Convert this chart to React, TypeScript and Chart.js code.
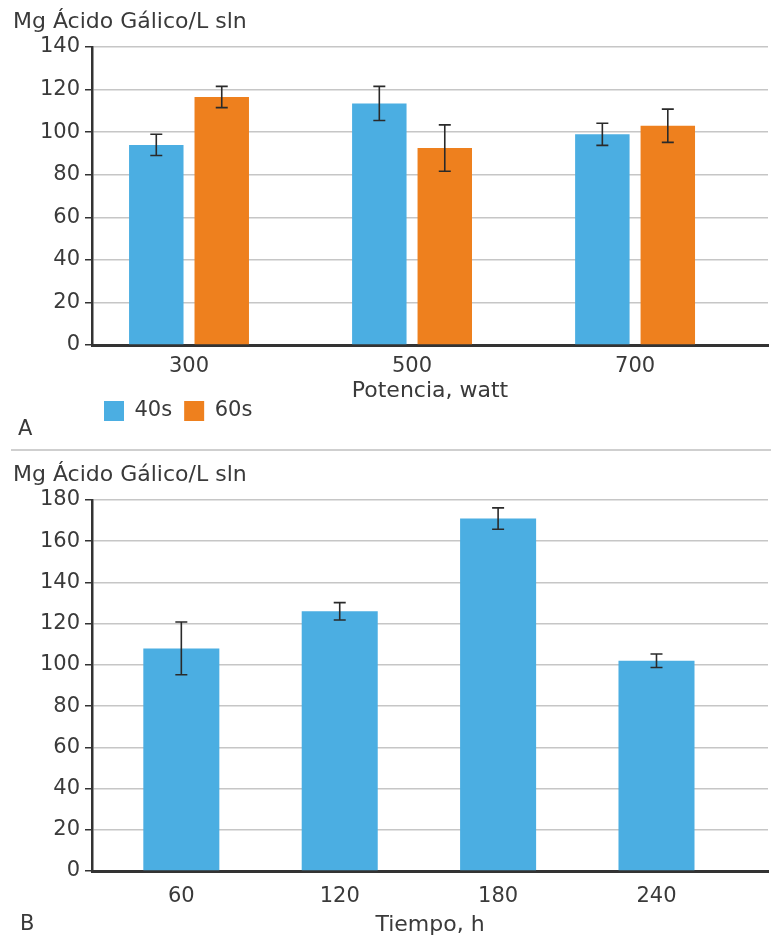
import React, { useEffect, useRef } from "react";
import { Chart, registerables } from "chart.js";

Chart.register(...registerables);

const FONT = "'DejaVu Sans', Verdana, sans-serif";
const TEXT = "#3a3a3a";
const AXIS = "#333333";
const GRID = "#c6c6c6";
const BLUE = "#4baee2";
const ORANGE = "#ee801e";

// ---- data (chart A) ----
const yUnitLabel = "Mg Ácido Gálico/L sln";
const categoriesA = ["300", "500", "700"];
const seriesNamesA = ["40s", "60s"];
const values40s = [94, 113.5, 99];
const errors40s = [5, 8, 5.2];
const values60s = [116.5, 92.5, 103];
const errors60s = [5, 10.9, 7.8];
const xTitleA = "Potencia, watt";
const yMaxA = 140;
const panelA = "A";

// ---- data (chart B) ----
const categoriesB = ["60", "120", "180", "240"];
const valuesB = [108, 126, 171, 102];
const errorsB = [12.8, 4.2, 5.2, 3.3];
const xTitleB = "Tiempo, h";
const yMaxB = 180;
const panelB = "B";

const yStep = 20;

const errorBarPlugin = {
  id: "errorBars",
  afterDatasetsDraw(chart: any) {
    const { ctx } = chart;
    const yScale = chart.scales.y;
    chart.data.datasets.forEach((ds: any, di: number) => {
      const meta = chart.getDatasetMeta(di);
      const errs = ds.errors as number[] | undefined;
      if (!errs) return;
      meta.data.forEach((el: any, i: number) => {
        const v = ds.data[i].y;
        const e = errs[i];
        const x = el.x;
        const yt = yScale.getPixelForValue(v + e);
        const yb = yScale.getPixelForValue(v - e);
        ctx.save();
        ctx.strokeStyle = "#2a2a2a";
        ctx.lineWidth = 1.6;
        ctx.beginPath();
        ctx.moveTo(x, yt);
        ctx.lineTo(x, yb);
        ctx.moveTo(x - 6, yt);
        ctx.lineTo(x + 6, yt);
        ctx.moveTo(x - 6, yb);
        ctx.lineTo(x + 6, yb);
        ctx.stroke();
        ctx.restore();
      });
    });
  },
};

const panelLabelPlugin = {
  id: "panelLabel",
  afterDraw(chart: any, _args: any, opts: any) {
    if (!opts || !opts.text) return;
    const ctx = chart.ctx;
    ctx.save();
    ctx.font = `21px ${FONT}`;
    ctx.fillStyle = TEXT;
    ctx.textBaseline = "middle";
    ctx.textAlign = "left";
    ctx.fillText(opts.text, opts.x, opts.y);
    ctx.restore();
  },
};

type Cfg = {
  categories: string[];
  datasets: any[];
  yMax: number;
  xMin: number;
  xMax: number;
  xTitle: string;
  tickPad: number;
  xTitlePad: { top: number; bottom: number };
  titlePad: { top: number; bottom: number };
  legend: boolean;
  layoutBottom: number;
  panel: { text: string; x: number; y: number };
  catPct: number;
  barPct: number;
};

function makeConfig(c: Cfg): any {
  return {
    type: "bar",
    data: { datasets: c.datasets },
    plugins: [errorBarPlugin, panelLabelPlugin],
    options: {
      animation: false,
      responsive: false,
      devicePixelRatio: 1,
      events: [],
      categoryPercentage: c.catPct,
      barPercentage: c.barPct,
      layout: { padding: { left: 13, right: 3, top: 0, bottom: c.layoutBottom } },
      plugins: {
        tooltip: { enabled: false },
        title: {
          display: true,
          text: yUnitLabel,
          align: "start",
          color: TEXT,
          font: { family: FONT, size: 22, weight: "normal" },
          padding: c.titlePad,
        },
        legend: {
          display: c.legend,
          position: "bottom",
          align: "start",
          fullSize: false,
          labels: {
            boxWidth: 20,
            boxHeight: 20,
            padding: 12,
            color: TEXT,
            font: { family: FONT, size: 21 },
          },
        },
        panelLabel: c.panel,
      },
      scales: {
        x: {
          type: "linear",
          min: c.xMin,
          max: c.xMax,
          offset: false,
          afterBuildTicks: (axis: any) => {
            axis.ticks = c.categories.map((_, i) => ({ value: i }));
          },
          grid: { display: false, offset: false },
          border: { display: true, color: AXIS, width: 3 },
          ticks: {
            autoSkip: false,
            maxRotation: 0,
            padding: c.tickPad,
            color: TEXT,
            font: { family: FONT, size: 21 },
            callback: (value: number) => c.categories[Math.round(value)],
          },
          title: {
            display: true,
            text: c.xTitle,
            color: TEXT,
            font: { family: FONT, size: 22 },
            padding: c.xTitlePad,
          },
        },
        y: {
          type: "linear",
          min: 0,
          max: c.yMax,
          afterFit: (scale: any) => {
            scale.width = 79;
          },
          ticks: {
            stepSize: yStep,
            padding: 5,
            color: TEXT,
            font: { family: FONT, size: 21 },
          },
          grid: {
            color: GRID,
            lineWidth: 1.5,
            drawTicks: true,
            tickLength: 7,
            tickColor: AXIS,
            tickWidth: 1.5,
          },
          border: { display: true, color: AXIS, width: 2.5 },
        },
      },
    },
  };
}

const toXY = (vals: number[]) => vals.map((v, i) => ({ x: i, y: v }));

function ChartCanvas({ config, width, height }: { config: any; width: number; height: number }) {
  const ref = useRef<HTMLCanvasElement | null>(null);
  useEffect(() => {
    if (!ref.current) return;
    const chart = new Chart(ref.current, config);
    return () => chart.destroy();
  }, []);
  return <canvas ref={ref} width={width} height={height} style={{ display: "block", width, height }} />;
}

export default function App() {
  const cfgA = makeConfig({
    categories: categoriesA,
    datasets: [
      { label: seriesNamesA[0], data: toXY(values40s), errors: errors40s, backgroundColor: BLUE, borderWidth: 0 },
      { label: seriesNamesA[1], data: toXY(values60s), errors: errors60s, backgroundColor: ORANGE, borderWidth: 0 },
    ],
    yMax: yMaxA,
    xMin: -0.435,
    xMax: 2.596,
    xTitle: xTitleA,
    tickPad: 0.5,
    xTitlePad: { top: -1.4, bottom: -15.7 },
    titlePad: { top: 9.5, bottom: 11.1 },
    legend: true,
    layoutBottom: 17.5,
    panel: { text: panelA, x: 18, y: 430 },
    catPct: 0.587,
    barPct: 0.832,
  });
  const cfgB = makeConfig({
    categories: categoriesB,
    datasets: [
      { label: "B", data: toXY(valuesB), errors: errorsB, backgroundColor: BLUE, borderWidth: 0 },
    ],
    yMax: yMaxB,
    xMin: -0.564,
    xMax: 3.704,
    xTitle: xTitleB,
    tickPad: 5,
    xTitlePad: { top: -2.4, bottom: -2 },
    titlePad: { top: 10.5, bottom: 11.1 },
    legend: false,
    layoutBottom: 1.8,
    panel: { text: panelB, x: 20, y: 473 },
    catPct: 0.48,
    barPct: 1,
  });
  return (
    <div style={{ position: "absolute", left: 0, top: 0, width: 771, height: 938, background: "#fff" }}>
      <div style={{ position: "absolute", left: 0, top: 0 }}>
        <ChartCanvas config={cfgA} width={771} height={449} />
      </div>
      <div style={{ position: "absolute", left: 11, top: 449, width: 760, height: 2, background: "#cfcfcf" }} />
      <div style={{ position: "absolute", left: 0, top: 452 }}>
        <ChartCanvas config={cfgB} width={771} height={486} />
      </div>
    </div>
  );
}
